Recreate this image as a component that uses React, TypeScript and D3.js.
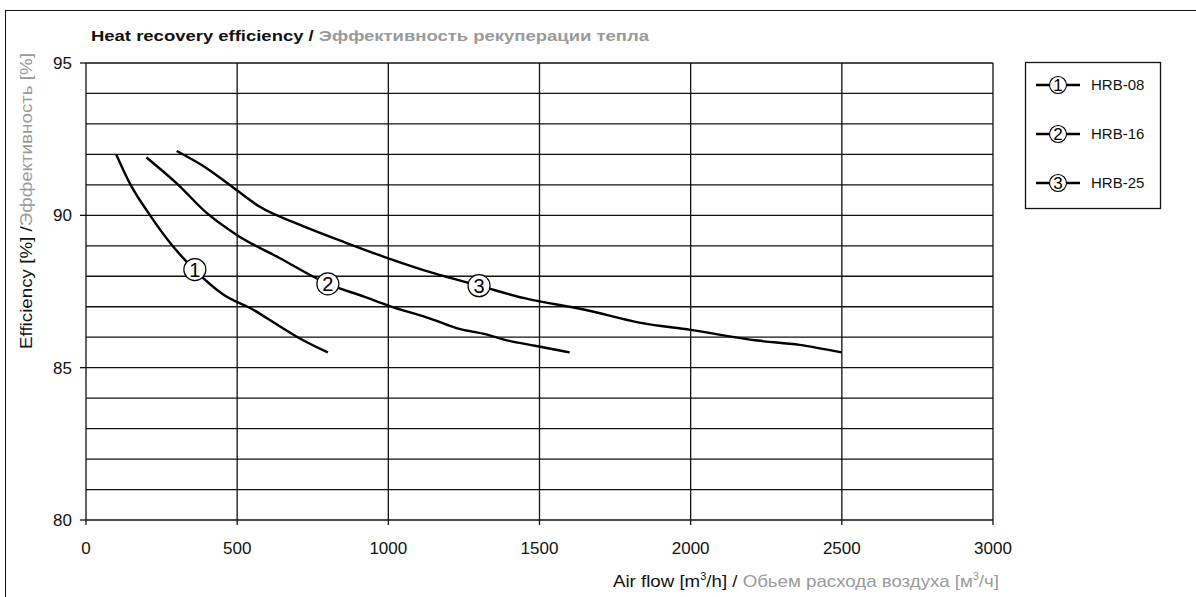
import { useEffect, useRef } from 'react';
import * as d3 from 'd3';

// air flow [m3/h] and efficiency [%]
const hrb08Flow = [100, 145, 212, 278, 360, 454, 553, 642, 700, 800];
const hrb08Eff = [92.0, 91.05, 90.0, 89.1, 88.2, 87.4, 86.9, 86.35, 86.0, 85.5];

const hrb16Flow = [200, 300, 400, 500, 640, 800, 920, 1000, 1150, 1225, 1320, 1400, 1485, 1600];
const hrb16Eff = [91.9, 91.05, 90.07, 89.35, 88.6, 87.75, 87.33, 87.04, 86.57, 86.3, 86.1, 85.88, 85.72, 85.5];

const hrb25Flow = [300, 400, 490, 575, 700, 860, 1000, 1150, 1300, 1450, 1650, 1830, 2000, 2220, 2360, 2500];
const hrb25Eff = [92.11, 91.54, 90.89, 90.28, 89.72, 89.1, 88.59, 88.1, 87.69, 87.28, 86.9, 86.48, 86.24, 85.89, 85.75, 85.5];

const seriesNames = ['HRB-08', 'HRB-16', 'HRB-25'];
const seriesMarks = ['1', '2', '3'];
// where the circled number sits on each curve
const markFlow = [360, 800, 1300];
const markEff = [88.22, 87.75, 87.69];

const xTicks = [0, 500, 1000, 1500, 2000, 2500, 3000];
const yTicks = [80, 85, 90, 95];
const yGrid = d3.range(80, 96, 1);

const GRAY = '#9a9a9a';
const FONT = '"Liberation Sans", Arial, sans-serif';

const App = () => {
  const ref = useRef<SVGSVGElement | null>(null);

  useEffect(() => {
    const svg = d3.select(ref.current);
    svg.selectAll('*').remove();

    const x = d3.scaleLinear().domain([0, 3000]).range([86, 993]);
    const y = d3.scaleLinear().domain([80, 95]).range([520, 63]);

    // outer frame (only left and top visible)
    svg.append('rect')
      .attr('x', 5.5).attr('y', 10.5)
      .attr('width', 1400).attr('height', 800)
      .attr('fill', 'none').attr('stroke', '#111').attr('stroke-width', 1);

    const g = svg.append('g').attr('font-family', FONT);

    // title (original font is wider, so stretch to its length)
    const title = g.append('text')
      .attr('x', 91).attr('y', 41)
      .attr('font-size', 15).attr('font-weight', 'bold')
      .attr('textLength', 558).attr('lengthAdjust', 'spacingAndGlyphs');
    title.append('tspan').attr('fill', '#111').text('Heat recovery efficiency / ');
    title.append('tspan').attr('fill', GRAY).text('Эффективность рекуперации тепла');

    // grid
    g.append('g').selectAll('line').data(yGrid).join('line')
      .attr('x1', x(0)).attr('x2', x(3000))
      .attr('y1', (d) => y(d)).attr('y2', (d) => y(d))
      .attr('stroke', '#111').attr('stroke-width', 1.3);
    g.append('g').selectAll('line').data(xTicks).join('line')
      .attr('x1', (d) => x(d)).attr('x2', (d) => x(d))
      .attr('y1', y(95)).attr('y2', y(80) + 5)
      .attr('stroke', '#111').attr('stroke-width', 1.3);

    // y axis ticks + labels
    g.append('g').selectAll('line').data(yTicks).join('line')
      .attr('x1', x(0) - 6).attr('x2', x(0))
      .attr('y1', (d) => y(d)).attr('y2', (d) => y(d))
      .attr('stroke', '#111').attr('stroke-width', 1.3);
    g.append('g').selectAll('text').data(yTicks).join('text')
      .attr('x', x(0) - 14).attr('y', (d) => y(d))
      .attr('dy', '0.36em').attr('text-anchor', 'end')
      .attr('font-size', 17).attr('fill', '#111')
      .text((d) => d);

    // x axis labels
    g.append('g').selectAll('text').data(xTicks).join('text')
      .attr('x', (d) => x(d)).attr('y', 554)
      .attr('text-anchor', 'middle')
      .attr('font-size', 17).attr('fill', '#111')
      .text((d) => d);

    // axis titles
    const xl = g.append('text')
      .attr('x', 613).attr('y', 587)
      .attr('font-size', 17)
      .attr('textLength', 386).attr('lengthAdjust', 'spacingAndGlyphs');
    xl.append('tspan').attr('fill', '#111').text('Air flow [m');
    xl.append('tspan').attr('fill', '#111').attr('font-size', 10).attr('dy', -7).text('3');
    xl.append('tspan').attr('fill', '#111').attr('dy', 7).text('/h] / ');
    xl.append('tspan').attr('fill', GRAY).text('Обьем расхода воздуха [м');
    xl.append('tspan').attr('fill', GRAY).attr('font-size', 10).attr('dy', -7).text('3');
    xl.append('tspan').attr('fill', GRAY).attr('dy', 7).text('/ч]');

    const yl = g.append('text')
      .attr('transform', 'translate(32,349) rotate(-90)')
      .attr('font-size', 16.5)
      .attr('textLength', 296).attr('lengthAdjust', 'spacingAndGlyphs');
    yl.append('tspan').attr('fill', '#111').text('Efficiency [%] /');
    yl.append('tspan').attr('fill', GRAY).text('Эффективность [%]');

    // curves
    const flows = [hrb08Flow, hrb16Flow, hrb25Flow];
    const effs = [hrb08Eff, hrb16Eff, hrb25Eff];
    const line = d3.line<number>()
      .x((d) => x(d))
      .curve(d3.curveMonotoneX);

    flows.forEach((fl, i) => {
      line.y((_, j) => y(effs[i][j]));
      g.append('path')
        .attr('d', line(fl))
        .attr('fill', 'none')
        .attr('stroke', '#000')
        .attr('stroke-width', 2.4)
        .attr('stroke-linejoin', 'round');
    });

    // circled numbers on the curves
    seriesMarks.forEach((m, i) => {
      const cx = x(markFlow[i]);
      const cy = y(markEff[i]);
      g.append('circle')
        .attr('cx', cx).attr('cy', cy).attr('r', 11)
        .attr('fill', '#fff').attr('stroke', '#000').attr('stroke-width', 1.2);
      g.append('text')
        .attr('x', cx).attr('y', cy).attr('dy', '0.36em')
        .attr('text-anchor', 'middle').attr('font-size', 20)
        .attr('fill', '#000').text(m);
    });

    // legend
    const lg = g.append('g');
    lg.append('rect')
      .attr('x', 1025.5).attr('y', 62.5).attr('width', 135).attr('height', 146)
      .attr('fill', '#fff').attr('stroke', '#111').attr('stroke-width', 1.3);
    const legY = d3.scalePoint<string>().domain(seriesNames).range([85, 183]);
    seriesNames.forEach((name, i) => {
      const ly = legY(name) as number;
      lg.append('line')
        .attr('x1', 1036).attr('x2', 1080).attr('y1', ly).attr('y2', ly)
        .attr('stroke', '#000').attr('stroke-width', 2.4);
      lg.append('circle')
        .attr('cx', 1058).attr('cy', ly).attr('r', 8.5)
        .attr('fill', '#fff').attr('stroke', '#000').attr('stroke-width', 1.1);
      lg.append('text')
        .attr('x', 1058).attr('y', ly).attr('dy', '0.36em')
        .attr('text-anchor', 'middle').attr('font-size', 17)
        .text(seriesMarks[i]);
      lg.append('text')
        .attr('x', 1091).attr('y', ly).attr('dy', '0.36em')
        .attr('font-size', 15).attr('fill', '#111')
        .text(name);
    });
  }, []);

  return (
    <>
      <style>{'body{margin:0}'}</style>
      <svg ref={ref} width={1196} height={597} style={{ display: 'block', background: '#fff' }} />
    </>
  );
};

export default App;
